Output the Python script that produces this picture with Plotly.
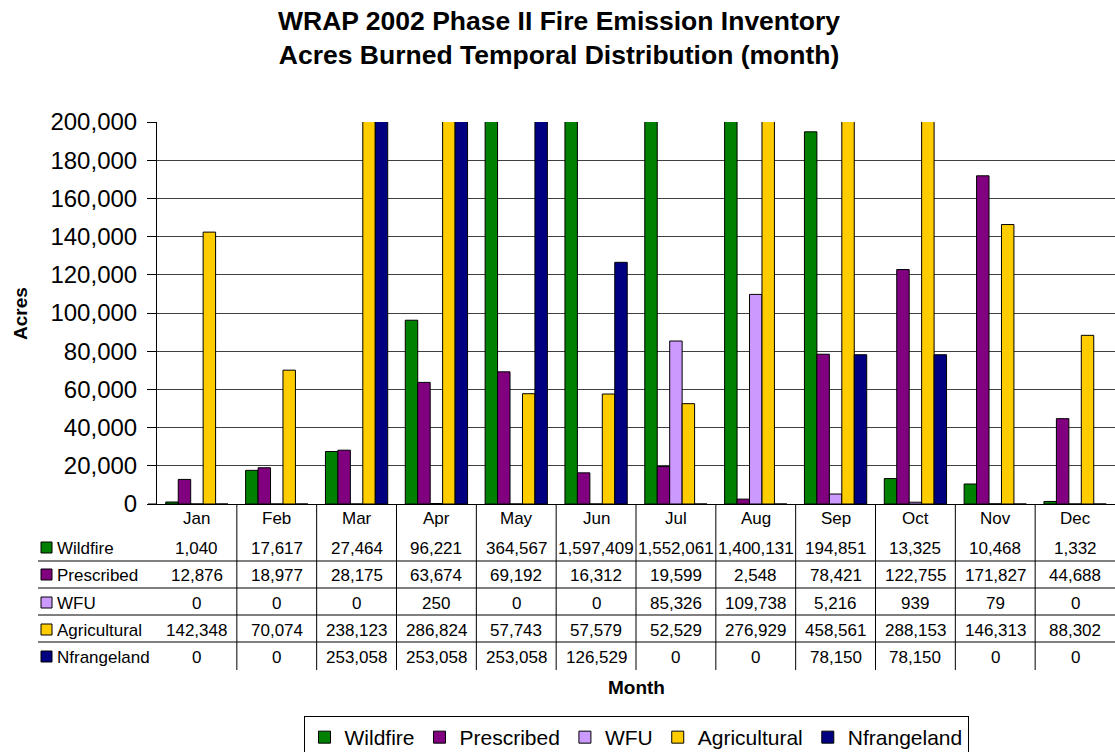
import plotly.graph_objects as go

# data (acres burned per month, WRAP 2002 Phase II)
months = ["Jan", "Feb", "Mar", "Apr", "May", "Jun",
          "Jul", "Aug", "Sep", "Oct", "Nov", "Dec"]
series_names = ["Wildfire", "Prescribed", "WFU", "Agricultural", "Nfrangeland"]
wildfire = [1040, 17617, 27464, 96221, 364567, 1597409,
            1552061, 1400131, 194851, 13325, 10468, 1332]
prescribed = [12876, 18977, 28175, 63674, 69192, 16312,
              19599, 2548, 78421, 122755, 171827, 44688]
wfu = [0, 0, 0, 250, 0, 0, 85326, 109738, 5216, 939, 79, 0]
agricultural = [142348, 70074, 238123, 286824, 57743, 57579,
                52529, 276929, 458561, 288153, 146313, 88302]
nfrangeland = [0, 0, 253058, 253058, 253058, 126529,
               0, 0, 78150, 78150, 0, 0]
y_ticks = list(range(0, 200001, 20000))

series = [wildfire, prescribed, wfu, agricultural, nfrangeland]
colors = ["#008000", "#800080", "#CC99FF", "#FFCC00", "#000080"]

W, H = 1115, 752
L, R, T, B = 157, 0, 122, 248
PW, PH = W - L - R, H - T - B
FONT = "Liberation Sans, Arial, sans-serif"


def px_x(px):
    return (px - L) / PW


def px_y(py):
    return (H - B - py) / PH


fig = go.Figure()

for name, vals, col in zip(series_names, series, colors):
    fig.add_trace(
        go.Bar(
            x=months, y=vals, name=name,
            marker=dict(color=col, line=dict(color="black", width=1)),
        )
    )

shapes = []
annotations = []

# data table under the chart
row_y = [548, 575, 603, 630, 657]
line_y = [561, 588, 615, 642]
for ly in line_y:
    shapes.append(dict(type="line", xref="paper", yref="paper",
                       x0=px_x(38), x1=px_x(W), y0=px_y(ly), y1=px_y(ly),
                       line=dict(color="black", width=1)))
for i in range(1, len(months)):
    shapes.append(dict(type="line", xref="x", yref="paper",
                       x0=i - 0.5, x1=i - 0.5, y0=0, y1=px_y(670),
                       line=dict(color="black", width=1)))
# short tick of the x axis left of the y axis
shapes.append(dict(type="line", xref="paper", yref="paper",
                   x0=px_x(148), x1=0, y0=0, y1=0,
                   line=dict(color="black", width=1)))

for m in months:
    annotations.append(dict(x=m, xref="x", y=px_y(518), yref="paper",
                            text=m, showarrow=False,
                            xanchor="center", yanchor="middle",
                            font=dict(size=17, color="black")))

for name, vals, col, ry in zip(series_names, series, colors, row_y):
    shapes.append(dict(type="rect", xref="paper", yref="paper",
                       x0=px_x(41), x1=px_x(52), y0=px_y(ry + 5), y1=px_y(ry - 6),
                       fillcolor=col, line=dict(color="black", width=1)))
    annotations.append(dict(x=px_x(55), xref="paper", y=px_y(ry), yref="paper",
                            text=name, showarrow=False,
                            xanchor="left", yanchor="middle",
                            font=dict(size=17, color="black")))
    for m, v in zip(months, vals):
        annotations.append(dict(x=m, xref="x", y=px_y(ry), yref="paper",
                                text=f"{v:,}", showarrow=False,
                                xanchor="center", yanchor="middle",
                                font=dict(size=17, color="black")))

# axis titles
annotations.append(dict(x=px_x(20), xref="paper", y=px_y(314), yref="paper",
                        text="<b>Acres</b>", textangle=-90, showarrow=False,
                        xanchor="center", yanchor="middle",
                        font=dict(size=19, color="black")))
annotations.append(dict(x=0.5, xref="paper", y=px_y(687), yref="paper",
                        text="<b>Month</b>", showarrow=False,
                        xanchor="center", yanchor="middle",
                        font=dict(size=19, color="black")))

# chart title
annotations.append(dict(
    x=px_x(559), xref="paper", y=px_y(38), yref="paper", xanchor="center",
    yanchor="middle", showarrow=False,
    text="<b>WRAP 2002 Phase II Fire Emission Inventory<br>"
         "Acres Burned Temporal Distribution (month)</b>",
    font=dict(size=26.5, color="black"),
))

fig.update_layout(
    width=W, height=H,
    margin=dict(l=L, r=R, t=T, b=B, autoexpand=False),
    paper_bgcolor="white", plot_bgcolor="white",
    font=dict(family=FONT, color="black"),
    barmode="group", bargap=0.22, bargroupgap=0,
    showlegend=True,
    legend=dict(
        orientation="h", x=0.5, xanchor="center", xref="paper",
        y=1 - 716 / H, yanchor="top", yref="container",
        bordercolor="black", borderwidth=1,
        font=dict(size=21, color="black"),
        itemwidth=30, traceorder="normal",
    ),
    shapes=shapes,
    annotations=annotations,
)

fig.update_xaxes(
    showticklabels=False, showline=True, linecolor="black", linewidth=1,
    ticks="", showgrid=False,
)
fig.update_yaxes(
    range=[0, 200000], tickvals=y_ticks, tickformat=",d",
    showgrid=True, gridcolor="#404040", gridwidth=1,
    showline=True, linecolor="black", linewidth=1,
    ticks="outside", ticklen=9, tickcolor="black", ticklabelstandoff=5,
    tickfont=dict(size=24, color="black"), zeroline=False,
)

fig.write_html("out.html", config={"displayModeBar": False},
               post_script="document.body.style.margin='0';")
